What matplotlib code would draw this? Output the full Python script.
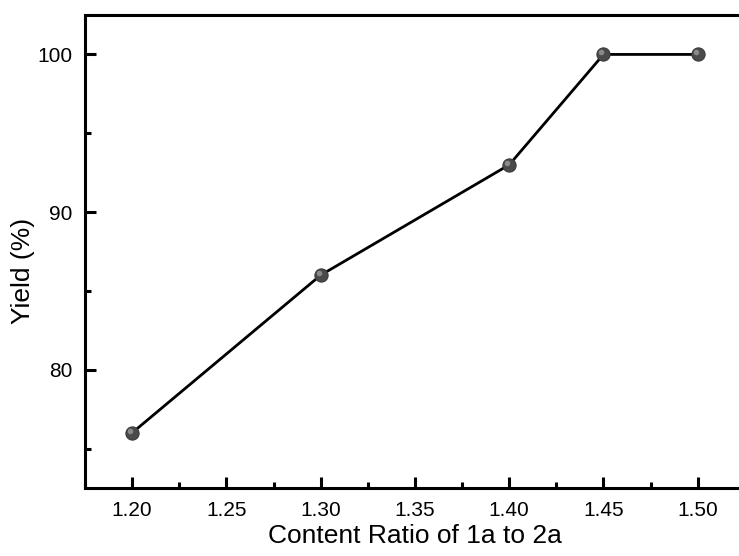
import numpy as np
import matplotlib.pyplot as plt
from matplotlib.ticker import MultipleLocator
from matplotlib.transforms import ScaledTranslation

## Data ###########################################################
ratio = [1.20, 1.30, 1.40, 1.45, 1.50]   # content ratio 1a:2a
yield_pct = [76, 86, 93, 100, 100]       # yield (%)
xticks = [1.20, 1.25, 1.30, 1.35, 1.40, 1.45, 1.50]
yticks = [80, 90, 100]

plt.rcParams['font.family'] = ['Liberation Sans', 'DejaVu Sans']

fig = plt.figure(figsize=(7.39, 5.56), dpi=100)
# right spine falls just outside the picture, like the reference crop
ax = fig.add_axes([0.115, 0.1223, 0.893, 0.8507])

ax.plot(ratio, yield_pct, '-', color='black', lw=2, zorder=2)
# sphere look: dark ball + small light highlight
ax.plot(ratio, yield_pct, 'o', ms=9.5, mfc='#4a4a4a', mec='#3a3a3a', mew=0.8, zorder=3)
hl = ax.transData + ScaledTranslation(-1.5/72, 1.5/72, fig.dpi_scale_trans)
ax.plot(ratio, yield_pct, 'o', ms=4, mfc='#9a9a9a', mec='none', alpha=0.8, zorder=4, transform=hl)

ax.set_xlim(1.175, 1.525)
ax.set_ylim(72.5, 102.5)
ax.set_xticks(xticks)
ax.set_xticklabels(['1.20', '1.25', '1.30', '1.35', '1.40', '1.45', '1.50'])
ax.set_yticks(yticks)
ax.xaxis.set_minor_locator(MultipleLocator(0.025))
ax.yaxis.set_minor_locator(MultipleLocator(5))

for s in ax.spines.values():
    s.set_linewidth(2.2)
ax.tick_params(which='major', direction='in', length=8, width=2.2, labelsize=15, pad=9,
               top=False, right=False)
ax.tick_params(which='minor', direction='in', length=4.5, width=2.2, top=False, right=False)

ax.set_xlabel('Content Ratio of 1a to 2a', fontsize=19)
ax.set_ylabel('Yield (%)', fontsize=19)
ax.xaxis.set_label_coords(0.5, -0.076)
ax.yaxis.set_label_coords(-0.075, 0.459)

plt.savefig('out.png', dpi=100)
